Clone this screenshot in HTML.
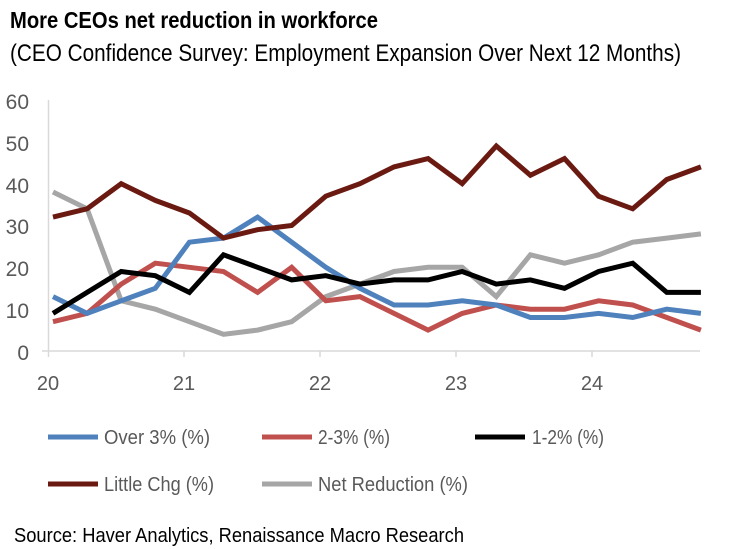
<!DOCTYPE html>
<html><head><style>body{margin:0;background:#fff}svg{display:block}</style></head><body>
<svg width="733" height="549" xmlns="http://www.w3.org/2000/svg" font-family="Liberation Sans, sans-serif">
<text x="10" y="28" font-size="23" font-weight="bold" textLength="368" lengthAdjust="spacingAndGlyphs" fill="#000">More CEOs net reduction in workforce</text>
<text x="10" y="61" font-size="24" textLength="671" lengthAdjust="spacingAndGlyphs" fill="#000">(CEO Confidence Survey: Employment Expansion Over Next 12 Months)</text>
<g font-size="21" fill="#595959" text-anchor="end">
<text x="29" y="109">60</text><text x="29" y="151">50</text><text x="29" y="193">40</text><text x="29" y="234">30</text><text x="29" y="276">20</text><text x="29" y="318">10</text><text x="29" y="360">0</text>
</g>
<g font-size="20" fill="#595959" text-anchor="middle">
<text x="48" y="390">20</text><text x="184" y="390">21</text><text x="320" y="390">22</text><text x="456" y="390">23</text><text x="592" y="390">24</text>
</g>
<line x1="48.5" y1="100" x2="48.5" y2="351" stroke="#d9d9d9" stroke-width="1.5"/>
<line x1="42" y1="351" x2="700" y2="351" stroke="#d9d9d9" stroke-width="1.5"/>
<g stroke="#d9d9d9" stroke-width="1.5"><line x1="48.5" y1="351" x2="48.5" y2="357"/><line x1="184" y1="351" x2="184" y2="357"/><line x1="320" y1="351" x2="320" y2="357"/><line x1="456" y1="351" x2="456" y2="357"/><line x1="592" y1="351" x2="592" y2="357"/></g>
<g id="series" fill="none" stroke-width="5" stroke-linejoin="miter"></g>
<g stroke-width="5">
<line x1="48" y1="437" x2="98" y2="437" stroke="#4f81bd"/>
<line x1="262" y1="437" x2="312" y2="437" stroke="#c0504d"/>
<line x1="475" y1="437" x2="525" y2="437" stroke="#000"/>
<line x1="48" y1="484" x2="98" y2="484" stroke="#6b1a12"/>
<line x1="262" y1="484" x2="312" y2="484" stroke="#a6a6a6"/>
</g>
<g font-size="20" fill="#595959">
<text x="104" y="444" textLength="106" lengthAdjust="spacingAndGlyphs">Over 3% (%)</text>
<text x="318" y="444" textLength="72" lengthAdjust="spacingAndGlyphs">2-3% (%)</text>
<text x="532" y="444" textLength="72" lengthAdjust="spacingAndGlyphs">1-2% (%)</text>
<text x="104" y="491" textLength="110" lengthAdjust="spacingAndGlyphs">Little Chg (%)</text>
<text x="318" y="491" textLength="150" lengthAdjust="spacingAndGlyphs">Net Reduction (%)</text>
</g>
<text x="14" y="542" font-size="20" fill="#000" textLength="450" lengthAdjust="spacingAndGlyphs">Source: Haver Analytics, Renaissance Macro Research</text>
</svg>
<script>
var data=[
["#a6a6a6",[38,34,12,10,7,4,5,7,13,16,19,20,20,13,23,21,23,26,27,28]],
["#c0504d",[7,9,16,21,20,19,14,20,12,13,9,5,9,11,10,10,12,11,8,5]],
["#4f81bd",[13,9,12,15,26,27,32,26,20,15,11,11,12,11,8,8,9,8,10,9]],
["#000000",[9,14,19,18,14,23,20,17,18,16,17,17,19,16,17,15,19,21,14,14]],
["#6b1a12",[32,34,40,36,33,27,29,30,37,40,44,46,40,49,42,46,37,34,41,44]]];
var g=document.getElementById('series'),s='';
data.forEach(function(d){var p=d[1].map(function(v,i){return (53+i*34.1).toFixed(1)+','+(351-v*4.183).toFixed(1)}).join(' ');
s+='<polyline stroke="'+d[0]+'" points="'+p+'"/>';});
g.innerHTML=s;
</script>
</body></html>
